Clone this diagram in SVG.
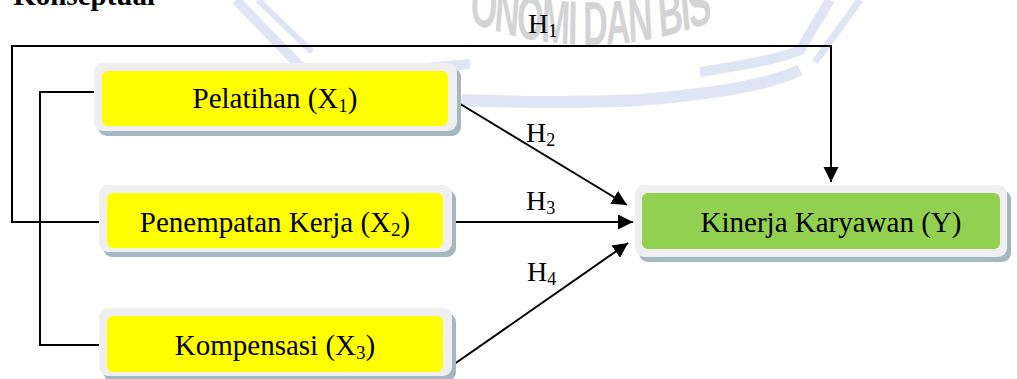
<svg xmlns="http://www.w3.org/2000/svg" width="1017" height="379" viewBox="0 0 1017 379">
<defs>
<marker id="arr" markerUnits="userSpaceOnUse" markerWidth="16" markerHeight="16" refX="15" refY="7.5" orient="auto">
<path d="M0,0 L15,7.5 L0,15 z" fill="#000"/>
</marker>
<path id="wmArc" d="M 472.7 -285 A 600 330 0 0 0 1672.7 -285"/>
</defs>
<style>
.frame{fill:#EFEFEF;}
.shadow{fill:#A3B8C3;}
.yel{fill:#FFFF00;}
.grn{fill:#92D050;}
.lbl{font-family:"Liberation Serif","Times New Roman",serif;font-size:29px;fill:#000;}
.h{font-family:"Liberation Serif","Times New Roman",serif;font-size:28px;fill:#000;}
.con{fill:none;stroke:#000;stroke-width:2;}
.wm{fill:none;stroke:#E0E5F5;}
</style>
<rect width="1017" height="379" fill="#fff"/>
<g id="watermark">
<path class="wm" stroke-width="10" d="M 236 0 L 296 62 Q 312 80 360 74 L 470 64"/>
<path class="wm" stroke-width="6" d="M 258 0 L 312 52"/>
<path class="wm" stroke-width="12" d="M 462 100 Q 560 104 640 100 Q 760 90 800 70"/>
<path class="wm" stroke-width="10" d="M 700 72 Q 780 60 800 50 L 830 0"/>
<path class="wm" stroke-width="7" d="M 860 0 L 815 62"/>
<text transform="scale(0.55,1)" font-family="Liberation Sans,Arial,sans-serif" font-weight="bold" font-size="62" letter-spacing="-3" fill="#D4D4D4"><textPath href="#wmArc" startOffset="50%" text-anchor="middle">ONOMI DAN BIS</textPath></text>
</g>
<text x="155" y="5" text-anchor="end" font-family="Liberation Serif,Times New Roman,serif" font-weight="bold" font-size="29">Konseptual</text>
<g id="connectors">
<path class="con" d="M 99 222 H 12 V 46 H 831 V 182" marker-end="url(#arr)"/>
<path class="con" d="M 97 92 H 40 V 345 H 99"/>
<path class="con" d="M 457 102 L 627 205" marker-end="url(#arr)"/>
<path class="con" d="M 452 222 L 633 222" marker-end="url(#arr)"/>
<path class="con" d="M 450 367 L 628 243" marker-end="url(#arr)"/>
</g>
<g id="labels">
<text class="h" x="528" y="33">H<tspan font-size="18" dy="4">1</tspan></text>
<text class="h" x="526" y="142">H<tspan font-size="18" dy="4">2</tspan></text>
<text class="h" x="526" y="210">H<tspan font-size="18" dy="4">3</tspan></text>
<text class="h" x="527" y="281">H<tspan font-size="18" dy="4">4</tspan></text>
</g>
<g id="node-x1">
<rect class="shadow" x="98" y="68" width="363" height="68" rx="9"/>
<rect class="frame" x="94" y="63" width="363" height="68" rx="9"/>
<rect class="yel" x="102" y="71" width="346" height="55" rx="6"/>
<text class="lbl" x="275" y="108" text-anchor="middle">Pelatihan (X<tspan font-size="19" dy="4">1</tspan><tspan dy="-4">)</tspan></text>
</g>
<g id="node-x2">
<rect class="shadow" x="103" y="190" width="353" height="67" rx="9"/>
<rect class="frame" x="99" y="185" width="353" height="67" rx="9"/>
<rect class="yel" x="107" y="193" width="336" height="55" rx="6"/>
<text class="lbl" x="275" y="232" text-anchor="middle">Penempatan Kerja (X<tspan font-size="19" dy="4">2</tspan><tspan dy="-4">)</tspan></text>
</g>
<g id="node-x3">
<rect class="shadow" x="103" y="313" width="353" height="68" rx="9"/>
<rect class="frame" x="99" y="308" width="353" height="68" rx="9"/>
<rect class="yel" x="107" y="316" width="336" height="56" rx="6"/>
<text class="lbl" x="275" y="355" text-anchor="middle">Kompensasi (X<tspan font-size="19" dy="4">3</tspan><tspan dy="-4">)</tspan></text>
</g>
<g id="node-y">
<rect class="shadow" x="639" y="190" width="372" height="72" rx="9"/>
<rect class="frame" x="635" y="185" width="372" height="72" rx="9"/>
<rect class="grn" x="642" y="193" width="358" height="56" rx="6"/>
<text class="lbl" x="831" y="232" text-anchor="middle">Kinerja Karyawan (Y)</text>
</g>
</svg>
